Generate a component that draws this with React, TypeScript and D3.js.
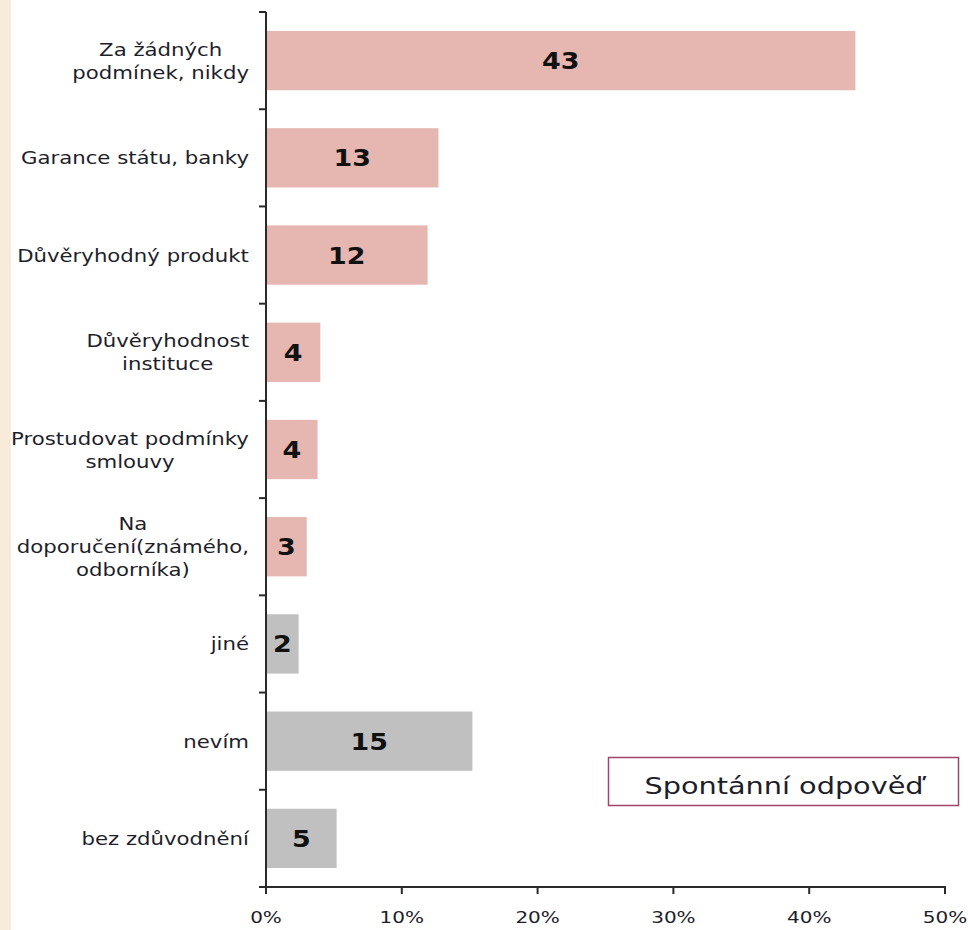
import React, { useEffect, useRef } from "react";
import * as d3 from "d3";

const categories: string[][] = [
  ["Za žádných", "podmínek, nikdy"],
  ["Garance státu, banky"],
  ["Důvěryhodný produkt"],
  ["Důvěryhodnost", "instituce"],
  ["Prostudovat podmínky", "smlouvy"],
  ["Na", "doporučení(známého,", "odborníka)"],
  ["jiné"],
  ["nevím"],
  ["bez zdůvodnění"],
];
const values: number[] = [43.4, 12.7, 11.9, 4.0, 3.8, 3.0, 2.4, 15.2, 5.2];
const valueLabels: string[] = ["43", "13", "12", "4", "4", "3", "2", "15", "5"];
const groups: string[] = ["a", "a", "a", "a", "a", "a", "b", "b", "b"];
const xTicks: number[] = [0, 10, 20, 30, 40, 50];
const legendText = "Spontánní odpověď";

const W = 968;
const H = 930;
const SX = 1.25;
const FONT = "'DejaVu Sans', Verdana, sans-serif";

export default function App() {
  const ref = useRef<SVGSVGElement | null>(null);

  useEffect(() => {
    const svg = d3.select(ref.current);
    svg.selectAll("*").remove();

    const x = d3.scaleLinear().domain([0, 50]).range([266, 945]);
    const y = d3
      .scaleBand<number>()
      .domain(d3.range(categories.length))
      .range([12, 887])
      .paddingInner(0.39)
      .paddingOuter(0.195);
    const color = d3.scaleOrdinal<string, string>().domain(["a", "b"]).range(["#e6b6b1", "#c0c0c0"]);

    svg.append("rect").attr("x", 0).attr("y", 0).attr("width", W).attr("height", H).attr("fill", "#ffffff");
    svg.append("rect").attr("x", 0).attr("y", 0).attr("width", 11).attr("height", H).attr("fill", "#f9ebda");

    // bars
    svg
      .append("g")
      .selectAll("rect")
      .data(values)
      .join("rect")
      .attr("x", x(0))
      .attr("y", (_, i) => y(i)!)
      .attr("width", (d) => x(d) - x(0))
      .attr("height", y.bandwidth())
      .attr("fill", (_, i) => color(groups[i]));

    // value labels
    svg
      .append("g")
      .selectAll("text")
      .data(values)
      .join("text")
      .attr("transform", (d, i) => `translate(${(x(0) + x(d)) / 2},${y(i)! + y.bandwidth() / 2 + 8.5}) scale(1.17,1)`)
      .attr("text-anchor", "middle")
      .attr("font-family", FONT)
      .attr("font-weight", "bold")
      .attr("font-size", 23)
      .attr("fill", "#111")
      .text((_, i) => valueLabels[i]);

    // category labels
    const lh = 23;
    const labelRight = 249;
    const lg = svg.append("g");
    categories.forEach((lines, i) => {
      const cy = y(i)! + y.bandwidth() / 2;
      const g = lg.append("g");
      const texts = lines.map((ln) =>
        g
          .append("text")
          .attr("font-family", FONT)
          .attr("font-size", 17)
          .attr("fill", "#1e1e2a")
          .attr("text-anchor", "middle")
          .text(ln)
      );
      const maxW = d3.max(texts, (t) => (t.node() as SVGTextElement).getComputedTextLength()) || 0;
      const cx = labelRight - (maxW * SX) / 2;
      texts.forEach((t, j) => {
        const ty = cy - ((lines.length - 1) * lh) / 2 + j * lh + 6.5;
        t.attr("transform", `translate(${cx},${ty}) scale(${SX},1)`);
      });
    });

    // y axis line and ticks
    const axisColor = "#2a2a2a";
    svg.append("line").attr("x1", 266).attr("x2", 266).attr("y1", 12).attr("y2", 887).attr("stroke", axisColor).attr("stroke-width", 2);
    const bounds = d3.range(categories.length + 1).map((i) => 12 + i * y.step());
    svg
      .append("g")
      .selectAll("line")
      .data(bounds)
      .join("line")
      .attr("x1", 259)
      .attr("x2", 266)
      .attr("y1", (d) => d)
      .attr("y2", (d) => d)
      .attr("stroke", axisColor)
      .attr("stroke-width", 2);

    // x axis
    svg.append("line").attr("x1", 265).attr("x2", 946).attr("y1", 887).attr("y2", 887).attr("stroke", axisColor).attr("stroke-width", 2);
    svg
      .append("g")
      .selectAll("line")
      .data(xTicks)
      .join("line")
      .attr("x1", (d) => x(d))
      .attr("x2", (d) => x(d))
      .attr("y1", 887)
      .attr("y2", 894)
      .attr("stroke", axisColor)
      .attr("stroke-width", 2);
    svg
      .append("g")
      .selectAll("text")
      .data(xTicks)
      .join("text")
      .attr("transform", (d) => `translate(${x(d)},923) scale(${SX},1)`)
      .attr("text-anchor", "middle")
      .attr("font-family", FONT)
      .attr("font-size", 16)
      .attr("fill", "#1e1e2a")
      .text((d) => `${d}%`);

    // legend box
    svg
      .append("rect")
      .attr("x", 608.5)
      .attr("y", 757.5)
      .attr("width", 350)
      .attr("height", 48)
      .attr("fill", "#fff")
      .attr("stroke", "#a3436f")
      .attr("stroke-width", 1.5);
    svg
      .append("text")
      .attr("transform", `translate(784,794) scale(${SX},1)`)
      .attr("text-anchor", "middle")
      .attr("font-family", FONT)
      .attr("font-size", 23)
      .attr("fill", "#1e1e2a")
      .text(legendText);
  }, []);

  return (
    <svg
      ref={ref}
      width={W}
      height={H}
      style={{ position: "absolute", left: 0, top: 0, display: "block" }}
    />
  );
}
